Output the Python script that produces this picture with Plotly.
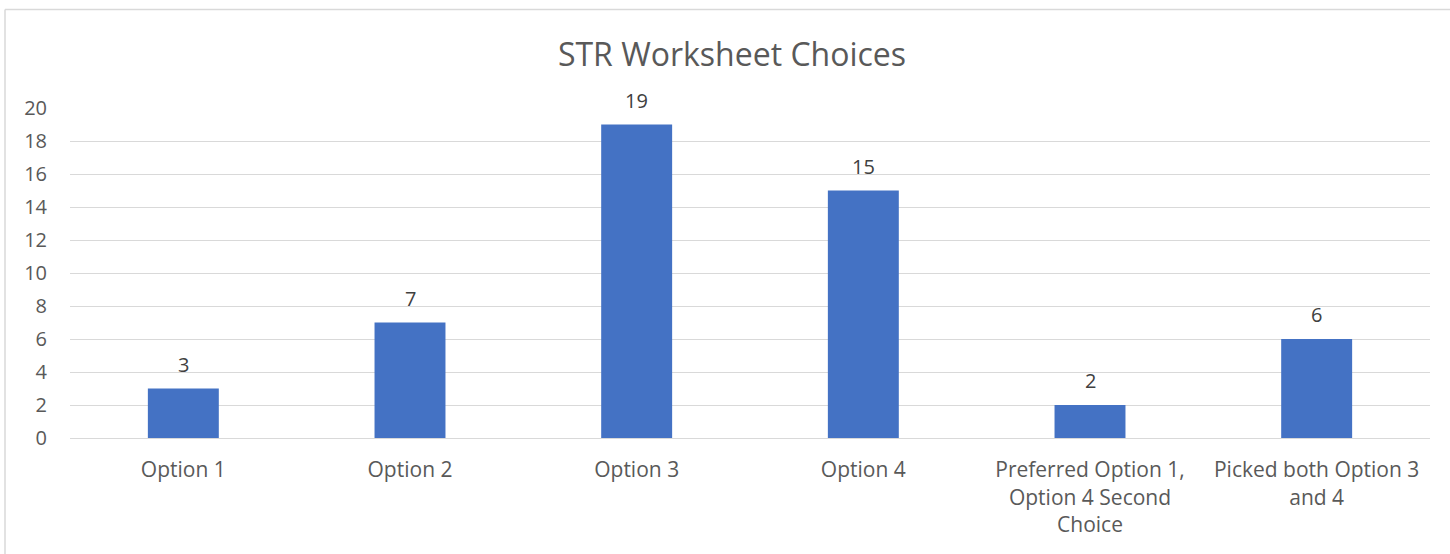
import plotly.graph_objects as go

# Survey tallies for each worksheet choice
categories = [
    "Option 1",
    "Option 2",
    "Option 3",
    "Option 4",
    "Preferred Option 1,<br>Option 4 Second<br>Choice",
    "Picked both Option 3<br>and 4",
]
counts = [3, 7, 19, 15, 2, 6]
y_ticks = [0, 2, 4, 6, 8, 10, 12, 14, 16, 18, 20]

FONT = "Open Sans, Liberation Sans, sans-serif"
TEXT_GRAY = "#595959"
LABEL_GRAY = "#404040"
BAR_BLUE = "#4472C4"
GRID_GRAY = "#d9d9d9"

fig = go.Figure(
    go.Bar(
        x=categories,
        y=counts,
        marker=dict(color=BAR_BLUE, line=dict(width=0)),
        hoverinfo="x+y",
    )
)

# value labels above each bar
for cat, val in zip(categories, counts):
    fig.add_annotation(
        x=cat, y=val, text=str(val), showarrow=False,
        xref="x", yref="y", yanchor="bottom", yshift=9,
        font=dict(family=FONT, size=20, color=LABEL_GRAY),
    )

# chart frame (top and left edges)
frame = dict(type="line", xref="paper", yref="paper",
             line=dict(color="#d9d9d9", width=1.5), layer="below")
fig.add_shape(x0=(5 - 70) / 1360, x1=(1450 - 70) / 1360 + 0.05,
              y0=(438 - 9.5) / 330, y1=(438 - 9.5) / 330, **frame)
fig.add_shape(x0=(5 - 70) / 1360, x1=(5 - 70) / 1360,
              y0=(438 - 9.5) / 330, y1=(438 - 560) / 330, **frame)

fig.update_layout(
    width=1450,
    height=554,
    margin=dict(l=70, r=20, t=108, b=116),
    paper_bgcolor="white",
    plot_bgcolor="white",
    bargap=0.687,
    showlegend=False,
    title=dict(
        text="STR Worksheet Choices",
        x=732 / 1450, xref="container", xanchor="center",
        y=1 - 55 / 554, yref="container", yanchor="middle",
        font=dict(family=FONT, size=32, color=TEXT_GRAY),
    ),
    xaxis=dict(
        showgrid=False, showline=True, linecolor=GRID_GRAY, linewidth=1,
        ticks="", tickfont=dict(family=FONT, size=21, color=TEXT_GRAY),
        ticklabelstandoff=13,
    ),
    yaxis=dict(
        range=[0, 20], tickvals=y_ticks, showgrid=True, gridcolor=GRID_GRAY,
        gridwidth=1, zeroline=False, showline=False, ticks="",
        tickfont=dict(family=FONT, size=20, color=TEXT_GRAY),
        ticklabelstandoff=22,
    ),
)

fig.write_html("out.html")
